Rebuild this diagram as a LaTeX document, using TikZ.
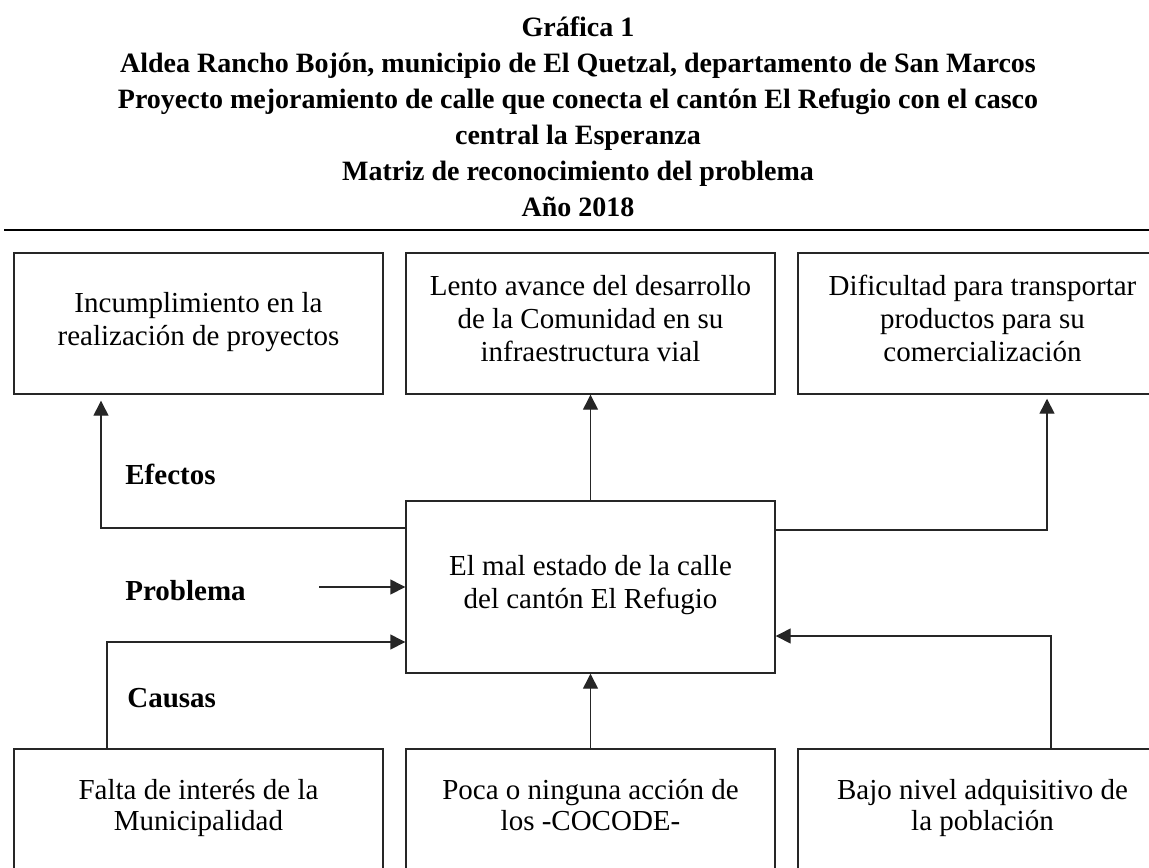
\documentclass[tikz,border=0pt]{standalone}
\usepackage{fontspec}
\setmainfont{Liberation Serif}
\usepackage{tikz}
\usetikzlibrary{arrows.meta}

\begin{document}
\begin{tikzpicture}[x=0.5pt,y=-0.5pt,
	caja/.style={draw=black!85, line width=0.7pt, minimum width=184.5pt, inner sep=0pt, align=center, font=\fontsize{14.5}{16.5}\selectfont, execute at begin node=\strut, execute at end node=\strut},
	flecha/.style={-{Triangle[length=7.5pt,width=7.5pt]}, draw=black!85, line width=0.7pt},
	etiqueta/.style={anchor=base west, inner sep=0pt, font=\fontsize{14.5}{17}\selectfont\bfseries}]
				\clip (0,0) rectangle (1149,867);
				\node (titulo) at (578,16) [anchor=north, align=center, inner sep=0pt, font=\fontsize{14}{18}\selectfont\bfseries] {Gráfica 1\\ Aldea Rancho Bojón, municipio de El Quetzal, departamento de San Marcos\\ Proyecto mejoramiento de calle que conecta el cantón El Refugio con el casco\\ central la Esperanza\\ Matriz de reconocimiento del problema\\ Año 2018};
				\draw[line width=0.9pt] (4,230) -- (1149,230);
				% efectos
				\node (ef1) at (198.5,323.5) [caja, minimum height=70.5pt] {Incumplimiento en la\\ realización de proyectos};
				\node (ef2) at (590.5,323.5) [caja, minimum height=70.5pt] {Lento avance del desarrollo\\ de la Comunidad en su\\ infraestructura vial};
				\node (ef3) at (982.5,323.5) [caja, minimum height=70.5pt] {Dificultad para transportar\\ productos para su\\ comercialización};
				% problema
				\node (pr) at (590.5,587) [caja, minimum height=86pt] {El mal estado de la calle\\ del cantón El Refugio};
				% causas
				\node (ca1) at (198.5,810) [caja, minimum height=61pt, font=\fontsize{14.5}{15.5}\selectfont] {Falta de interés de la\\ Municipalidad};
				\node (ca2) at (590.5,810) [caja, minimum height=61pt, font=\fontsize{14.5}{15.5}\selectfont] {Poca o ninguna acción de\\ los -COCODE-};
				\node (ca3) at (982.5,810) [caja, minimum height=61pt, font=\fontsize{14.5}{15.5}\selectfont] {Bajo nivel adquisitivo de\\ la población};
				\node (lef) at (125,484) [etiqueta] {Efectos};
				\node (lpr) at (125,600) [etiqueta] {Problema};
				\node (lca) at (127,707) [etiqueta] {Causas};
				\coordinate (e1) at (101,528);
				\coordinate (e3) at (1047,530);
				\coordinate (p0) at (319,587);
				\coordinate (c1) at (107,642);
				\coordinate (c3) at (1051,636);
				\draw[flecha, shorten >=3pt] (pr.west |- e1) -| (ef1.south -| e1);
				\draw[flecha] (pr.north) -- (ef2.south);
				\draw[flecha, shorten >=2pt] (pr.east |- e3) -| (ef3.south -| e3);
				\draw[flecha] (p0) -- (pr.west |- p0);
				\draw[flecha] (ca1.north -| c1) |- (pr.west |- c1);
				\draw[flecha] (ca2.north) -- (pr.south);
				\draw[flecha] (ca3.north -| c3) |- (pr.east |- c3);
			\end{tikzpicture}
\end{document}
